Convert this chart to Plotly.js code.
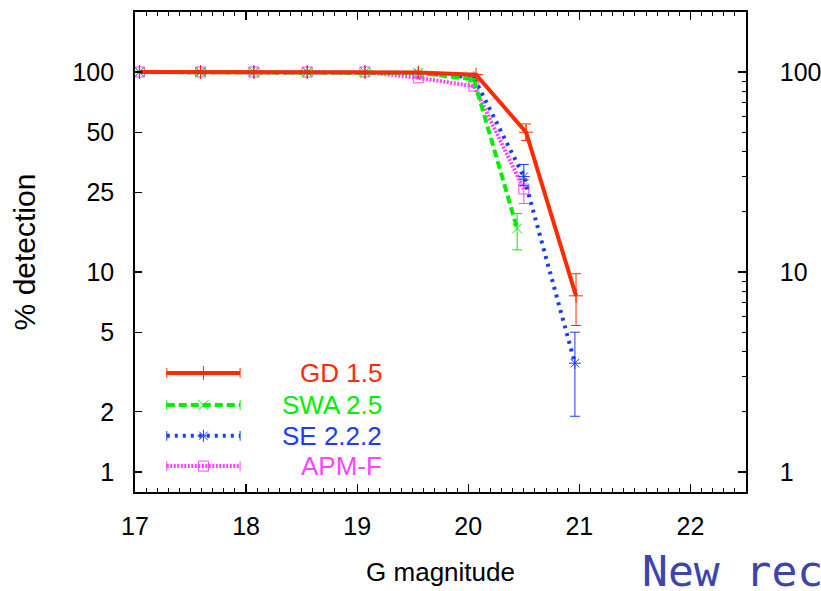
<!DOCTYPE html>
<html>
<head>
<meta charset="utf-8">
<script src="https://cdn.plot.ly/plotly-3.0.1.min.js"></script>
<style>html,body{margin:0;padding:0;background:#fff;}#chart{width:821px;height:591px;}</style>
</head>
<body>
<div id="chart"></div>
<script>
// Series names
const seriesNames = ["GD 1.5", "SWA 2.5", "SE 2.2.2", "APM-F"];
// G magnitude bin centres and % detection values
const xGD  = [17.04, 17.59, 18.07, 18.55, 19.07, 19.55, 20.07, 20.52, 20.97];
const yGD  = [100, 100, 100, 100, 100, 99.5, 97, 50, 7.6];
const eGDp = [0, 0, 0, 0, 0, 0, 0, 5, 2.2];
const eGDm = [0, 0, 0, 0, 0, 0, 0, 4.5, 2.2];

const xSWA  = [17.04, 17.59, 18.07, 18.55, 19.07, 19.55, 20.05, 20.44];
const ySWA  = [100, 100, 100, 100, 100, 99, 92, 16.5];
const eSWAp = [0, 0, 0, 0, 0, 0, 0, 3.1];
const eSWAm = [0, 0, 0, 0, 0, 0, 0, 3.6];

const xSE  = [17.04, 17.59, 18.07, 18.55, 19.07, 19.55, 20.05, 20.5, 20.96];
const ySE  = [100, 100, 100, 100, 100, 99, 94, 30, 3.5];
const eSEp = [0, 0, 0, 0, 0, 0, 0, 4.5, 1.5];
const eSEm = [0, 0, 0, 0, 0, 0, 0, 3, 1.6];

const xAPM  = [17.04, 17.59, 18.07, 18.55, 19.07, 19.55, 20.05, 20.5];
const yAPM  = [100, 100, 100, 100, 100, 93.5, 85, 26];
const eAPMp = [0, 0, 0, 0, 0, 0, 0, 3];
const eAPMm = [0, 0, 0, 0, 0, 0, 0, 4];

// Axis tick labels
const xTicks = [17, 18, 19, 20, 21, 22];
const yTicksLeft = [1, 2, 5, 10, 25, 50, 100];
const yTicksRight = [1, 10, 100];
const yMinorRight = [2,3,4,5,6,7,8,9,20,30,40,50,60,70,80,90,200];

const colors = ["#ff2a00", "#00ee00", "#1a3cff", "#ff44ff"];
const dashes = ["solid", "8px,4px", "3px,5px", "2px,1.5px"];
const symbols = ["cross-thin-open", "x-thin-open", "asterisk-open", "square-open"];

function mk(i, x, y, ep, em) {
  return {
    x: x, y: y, type: "scatter", mode: "lines+markers", name: seriesNames[i],
    line: {color: colors[i], width: 4, dash: dashes[i]},
    marker: {symbol: symbols[i], size: 10, color: colors[i], line: {color: colors[i], width: 1}},
    error_y: {type: "data", symmetric: false, array: ep, arrayminus: em, color: colors[i], thickness: 1, width: 5},
    showlegend: false, hoverinfo: "skip"
  };
}
const traces = [
  mk(3, xAPM, yAPM, eAPMp, eAPMm),
  mk(2, xSE, ySE, eSEp, eSEm),
  mk(1, xSWA, ySWA, eSWAp, eSWAm),
  mk(0, xGD, yGD, eGDp, eGDm),
  // invisible trace to activate right axis
  {x: [xTicks[0]], y: [yTicksRight[0]], yaxis: "y2", mode: "markers", marker: {opacity: 0}, showlegend: false, hoverinfo: "skip"}
];

const F = "Liberation Sans, Arial, sans-serif";
const yRange = [-0.1, 2.3];

// Legend (drawn manually, text right-aligned as in the original)
const legY = [0.248, 0.181, 0.117, 0.054];
const legX0 = 0.052, legX1 = 0.172, legXm = 0.112;
const shapes = [], annotations = [];
seriesNames.forEach((n, i) => {
  shapes.push({type: "line", xref: "paper", yref: "paper", x0: legX0, x1: legX1, y0: legY[i], y1: legY[i],
    line: {color: colors[i], width: 4, dash: dashes[i]}});
  annotations.push({xref: "paper", yref: "paper", x: 0.407, y: legY[i], xanchor: "right", yanchor: "middle",
    text: n, showarrow: false, font: {family: F, size: 26, color: colors[i]}});
  // legend key markers on a hidden overlay axis spanning the plot area
  traces.push({x: [legXm], y: [legY[i]], xaxis: "x2", yaxis: "y3", mode: "markers",
    marker: {symbol: symbols[i], size: 10, color: colors[i], line: {color: colors[i], width: 1}},
    showlegend: false, hoverinfo: "skip"});
  traces.push({x: [legX0, legX1], y: [legY[i], legY[i]], xaxis: "x2", yaxis: "y3", mode: "markers",
    marker: {symbol: "line-ns-open", size: 7, color: colors[i], line: {color: colors[i], width: 1}},
    showlegend: false, hoverinfo: "skip"});
});
annotations.push({xref: "paper", yref: "paper", x: 0.827, y: -0.109, xanchor: "left", yanchor: "top",
  text: "New record", showarrow: false, font: {family: "DejaVu Sans Mono, monospace", size: 43, color: "#3b45ad"}});

const layout = {
  width: 821, height: 591,
  margin: {l: 135, r: 75, t: 12, b: 99},
  paper_bgcolor: "#fff", plot_bgcolor: "#fff",
  showlegend: false,
  font: {family: F, color: "#000"},
  xaxis: {
    range: [17, 22.5], tickvals: xTicks, ticktext: xTicks.map(String),
    ticks: "inside", ticklen: 8, tickwidth: 1.2, tickcolor: "#000",
    minor: {dtick: 0.1, ticks: "inside", ticklen: 4, tickwidth: 1, tickcolor: "#000"},
    showline: true, linecolor: "#000", linewidth: 1.8, mirror: "ticks",
    showgrid: false, zeroline: false,
    tickfont: {family: F, size: 25, color: "#000"}, ticklabelstandoff: 11,
    title: {text: "G magnitude", font: {family: F, size: 26, color: "#000"}, standoff: 24}
  },
  yaxis: {
    type: "log", range: yRange, tickvals: yTicksLeft, ticktext: yTicksLeft.map(String),
    ticks: "inside", ticklen: 7, tickwidth: 1.2, tickcolor: "#000",
    showline: true, linecolor: "#000", linewidth: 1.8, mirror: false,
    showgrid: false, zeroline: false,
    tickfont: {family: F, size: 25, color: "#000"}, ticklabelstandoff: 14,
    title: {text: "% detection", font: {family: F, size: 30, color: "#000"}, standoff: 28}
  },
  yaxis2: {
    type: "log", range: yRange, overlaying: "y", side: "right",
    tickvals: yTicksRight, ticktext: yTicksRight.map(String),
    ticks: "inside", ticklen: 8, tickwidth: 1.2, tickcolor: "#000",
    minor: {tickvals: yMinorRight, ticks: "inside", ticklen: 4, tickwidth: 1, tickcolor: "#000"},
    showline: true, linecolor: "#000", linewidth: 1.8,
    showgrid: false, zeroline: false,
    tickfont: {family: F, size: 25, color: "#000"}, ticklabelstandoff: 27
  },
  xaxis2: {overlaying: "x", range: [0, 1], visible: false, fixedrange: true},
  yaxis3: {overlaying: "y", range: [0, 1], visible: false, fixedrange: true},
  shapes: shapes,
  annotations: annotations
};

Plotly.newPlot("chart", traces, layout, {staticPlot: true, displayModeBar: false});
</script>
</body>
</html>
